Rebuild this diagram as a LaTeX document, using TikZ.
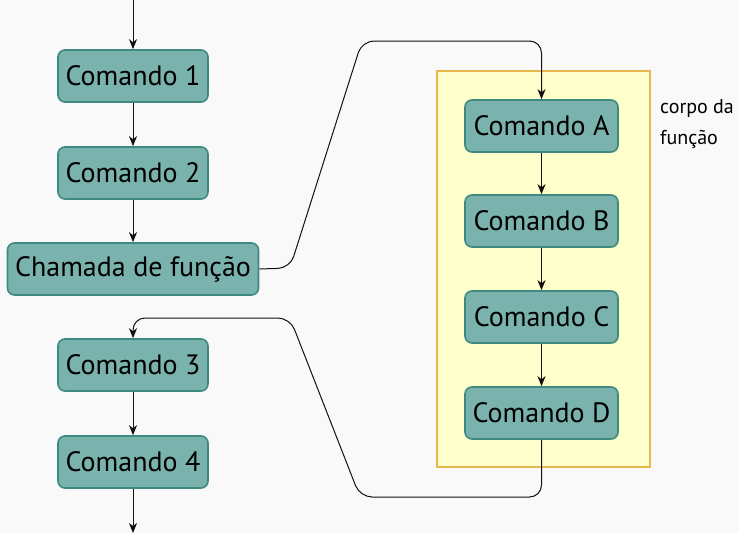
\documentclass[tikz,border=0pt]{standalone}
\usepackage{fontspec}
\setmainfont{PT Sans}
\usetikzlibrary{arrows.meta}
\definecolor{bgcol}{HTML}{F9F9F9}
\definecolor{cmdfill}{HTML}{7AB3AD}
\definecolor{cmddraw}{HTML}{3F8A80}
\definecolor{bodyfill}{HTML}{FFFFCC}
\definecolor{bodydraw}{HTML}{E6B84E}
\definecolor{linkcol}{HTML}{111111}
\tikzset{
  cmd/.style={draw=cmddraw, fill=cmdfill, line width=1.6pt, rounded corners=7pt,
    minimum height=52pt, inner xsep=6pt, font=\fontsize{28}{32}\selectfont, text=black},
  cmdw/.style={cmd, minimum width=150pt},
  flow/.style={draw=linkcol, line width=1pt, -{Stealth[length=10pt,width=8pt,inset=3pt]}},
  jump/.style={flow, rounded corners=12pt},
}
\begin{document}
\begin{tikzpicture}[x=1pt,y=-1pt]
  \fill[bgcol] (0,0) rectangle (739,533);
  \useasboundingbox (0,0) rectangle (739,533);

  % main program
  \node[cmdw] (c1) at (133,76) {Comando 1};
  \node[cmdw] (c2) at (133,173) {Comando 2};
  \node[cmd, minimum width=251pt] (call) at (133,269) {Chamada de função};
  \node[cmdw] (c3) at (133,365) {Comando 3};
  \node[cmdw] (c4) at (133,462) {Comando 4};
  \coordinate (start) at (133,0);
  \coordinate (stop) at (133,533);

  % function body
  \node[draw=bodydraw, fill=bodyfill, line width=2pt, minimum width=213pt,
        minimum height=396pt] (body) at (543.5,269) {};
  \node[cmd, minimum width=153pt] (ca) at (541.5,126) {Comando A};
  \node[cmd, minimum width=153pt] (cb) at (541.5,221) {Comando B};
  \node[cmd, minimum width=153pt] (cc) at (541.5,317) {Comando C};
  \node[cmd, minimum width=153pt] (cd) at (541.5,413) {Comando D};
  \node[anchor=north west, align=left, font=\fontsize{20}{31}\selectfont,
        inner sep=0pt] (lbl) at (660,99) {corpo da\\função};

  \draw[flow] (start) -- (c1);
  \draw[flow] (c1) -- (c2);
  \draw[flow] (c2) -- (call);
  \draw[flow] (c3) -- (c4);
  \draw[flow] (c4) -- (stop);
  \draw[flow] (ca) -- (cb);
  \draw[flow] (cb) -- (cc);
  \draw[flow] (cc) -- (cd);

  % call and return jumps
  \coordinate (j1) at (290,268);
  \coordinate (j2) at (362,41);
  \coordinate (r1) at (360,497);
  \coordinate (r2) at (290,318);
  \draw[jump] (call.east) -- (j1) -- (j2) -- (ca.north |- j2) -- (ca.north);
  \draw[jump] (cd.south) -- (cd.south |- r1) -- (r1) -- (r2) -- (c3.north |- r2) -- (c3.north);
\end{tikzpicture}
\end{document}
